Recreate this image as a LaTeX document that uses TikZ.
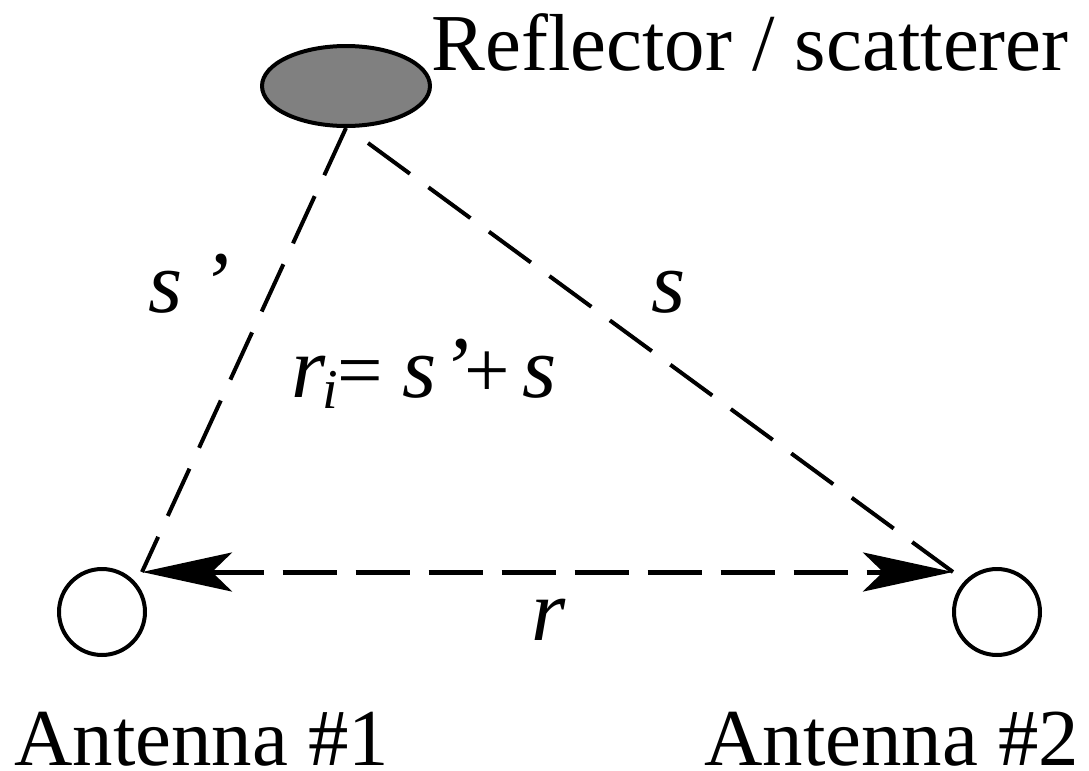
\documentclass[tikz,border=0pt]{standalone}
\usepackage{fontspec}
\setmainfont{Liberation Serif}
\newfontfamily\itfont{LiberationSerif-Italic.ttf}
\usetikzlibrary{arrows.meta,shapes.geometric}
\begin{document}
\begin{tikzpicture}[x=0.02cm,y=-0.02cm,
  lbl/.style={font=\fontsize{46}{50}\selectfont, inner sep=0pt, anchor=base west},
  ital/.style={font=\fontsize{50}{54}\selectfont\itfont, inner sep=0pt, anchor=base west},
  ant/.style={circle, draw, line width=0.08cm, minimum size=1.72cm, inner sep=0pt},
  refl/.style={ellipse, draw, fill=gray, line width=0.08cm, minimum width=3.36cm, minimum height=1.6cm, inner sep=0pt},
  ray/.style={line width=0.08cm, dash pattern=on 1.04cm off 0.46cm},
  link/.style={line width=0.1cm, dash pattern=on 1.08cm off 0.38cm,
    {Stealth[length=1.8cm,width=0.78cm,inset=0.4cm]}-{Stealth[length=1.8cm,width=0.78cm,inset=0.4cm]}}
]
\useasboundingbox (0,0) rectangle (1089,771);
\node[refl] (refl) at (346,86) {};
\node[ant] (a1) at (102,612) {};
\node[ant] (a2) at (997,612) {};
\coordinate (t1) at (142,572);
\coordinate (t2) at (953,572);
\coordinate (rs) at (368,143);
\draw[ray] (refl.south) -- (t1);
\draw[ray] (rs) -- (t2);
\draw[link] (t1) -- (t2);
\node[lbl] (reflbl) at (431,70) {Reflector / scatterer};
\node[lbl] (ant1) at (14,765) {Antenna \#1};
\node[lbl] (ant2) at (704,765) {Antenna \#2};
\node[ital] (sp) at (148,312) {s\kern0.2em’};
\node[ital] (s) at (651,312) {s};
\node[ital] (ri) at (291,397) {r\kern-0.04em\raisebox{-0.13em}{\fontsize{32}{32}\selectfont i}{\rmfamily\fontsize{46}{50}\selectfont=}\kern0.22em s\kern0.04em’\kern-0.06em{\rmfamily\fontsize{46}{50}\selectfont+}\kern0.14em s};
\node[ital] (r) at (531,640) {r};
\end{tikzpicture}
\end{document}
